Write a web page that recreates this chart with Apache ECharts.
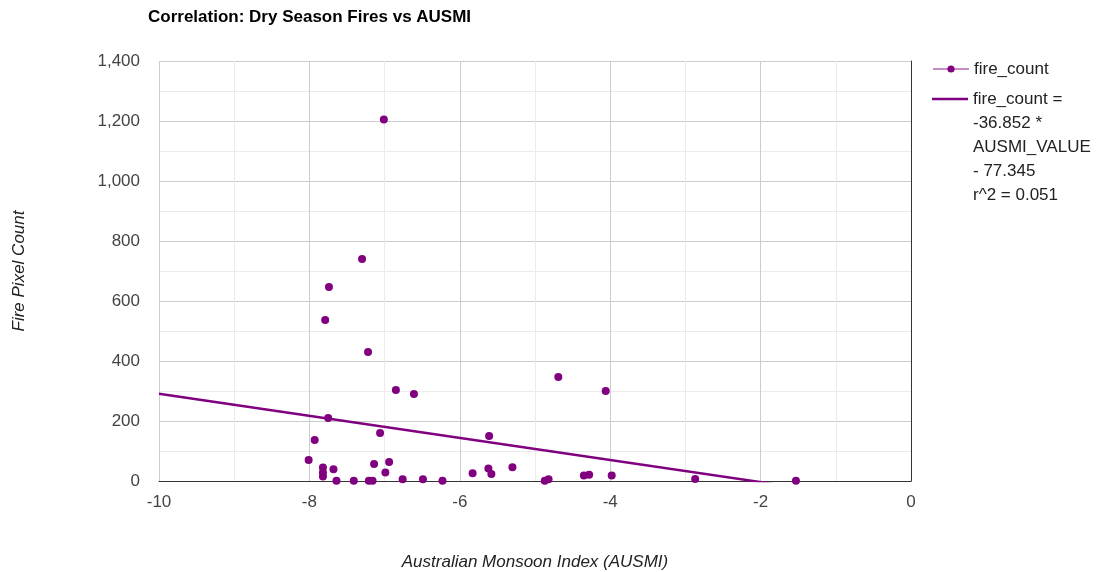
<!DOCTYPE html>
<html>
<head>
<meta charset="utf-8">
<title>Correlation: Dry Season Fires vs AUSMI</title>
<script src="https://cdn.jsdelivr.net/npm/echarts@6/dist/echarts.min.js"></script>
<style>
html,body{margin:0;padding:0;background:#fff;}
#main{width:1104px;height:572px;}
</style>
</head>
<body>
<div id="main"></div>
<script>
// data
var ausmi = [-7.01, -7.30, -7.74, -7.79, -7.22, -6.85, -6.61, -4.69, -4.06, -7.75,
	-7.93, -7.06, -5.61, -8.01, -7.82, -7.82, -7.82, -7.68, -7.64, -7.41,
	-7.21, -7.16, -7.14, -6.94, -6.99, -6.76, -6.49, -6.23, -5.83, -5.62,
	-5.58, -5.30, -4.87, -4.82, -4.35, -4.28, -3.98, -2.87, -1.53];
var fireCount = [1205, 740, 647, 537, 430, 303, 290, 347, 300, 210,
	137, 160, 150, 70, 45, 28, 15, 39, 1, 1,
	1, 1, 57, 63, 28, 6, 6, 1, 26, 42,
	23, 46, 1, 6, 18, 21, 18, 7, 1];
// trend line y = slope * x + intercept
var slope = -36.852;
var intercept = -77.345;
var r2 = 0.051;
var xRange = [-10, 0];

var font = 'Arial, "Liberation Sans", sans-serif';
var purple = '#800080';

var points = ausmi.map(function(x, i){ return [x, fireCount[i]]; });
var trend = xRange.map(function(x){ return [x, slope * x + intercept]; });
var trendName = 'fire_count =\n' + slope + ' *\nAUSMI_VALUE\n- ' + Math.abs(intercept) + '\nr^2 = ' + r2;

var myChart = echarts.init(document.getElementById('main'));

var option = {
	backgroundColor: '#fff',
	animation: false,
	title: {
		text: 'Correlation: Dry Season Fires vs AUSMI',
		left: 148,
		top: 9,
		padding: 0,
		textStyle: {fontFamily: font, fontSize: 17, fontWeight: 'bold', color: '#000'}
	},
	legend: [
		{
			data: ['fire_count'],
			left: 932, top: 57, padding: 0,
			itemWidth: 36, itemHeight: 9,
			textStyle: {fontFamily: font, fontSize: 17, color: '#222', lineHeight: 24},
			lineStyle: {color: 'rgba(128,0,128,0.45)', width: 2, opacity: 1}
		},
		{
			// empty lines above so the icon sits on the first text line
			data: [{name: trendName, icon: 'rect'}],
			left: 932, top: -9, padding: 0,
			itemWidth: 36, itemHeight: 2.5,
			formatter: function(name){ return '\n\n\n\n' + name; },
			textStyle: {fontFamily: font, fontSize: 17, color: '#222', lineHeight: 24}
		}
	],
	grid: {left: 159, right: 193, top: 61, bottom: 91, outerBoundsMode: 'none'},
	xAxis: {
		type: 'value',
		min: xRange[0], max: xRange[1], interval: 2,
		name: 'Australian Monsoon Index (AUSMI)',
		nameLocation: 'middle', nameGap: 73,
		nameTextStyle: {fontFamily: font, fontSize: 17, fontStyle: 'italic', color: '#222'},
		axisLine: {show: true, lineStyle: {color: '#333', width: 1}},
		axisTick: {show: false},
		axisLabel: {fontFamily: font, fontSize: 17, color: '#444', margin: 13},
		splitLine: {show: true, lineStyle: {color: '#ccc'}},
		minorTick: {show: false, splitNumber: 2},
		minorSplitLine: {show: true, lineStyle: {color: '#ebebeb'}}
	},
	yAxis: [
		{
			type: 'value',
			min: 0, max: 1400, interval: 200,
			name: 'Fire Pixel Count',
			nameLocation: 'middle', nameGap: 131, nameRotate: 90,
			nameTextStyle: {fontFamily: font, fontSize: 17, fontStyle: 'italic', color: '#222'},
			axisLine: {show: false},
			axisTick: {show: false},
			axisLabel: {
				fontFamily: font, fontSize: 17, color: '#444', margin: 19,
				formatter: function(v){ return v.toLocaleString('en-US'); }
			},
			splitLine: {show: true, lineStyle: {color: '#ccc'}},
			minorTick: {show: false, splitNumber: 2},
			minorSplitLine: {show: true, lineStyle: {color: '#ebebeb'}}
		},
		{
			// baseline at x = 0 (right edge)
			type: 'value', position: 'right',
			min: 0, max: 1400,
			axisLine: {show: true, onZero: false, lineStyle: {color: '#333', width: 1}},
			axisTick: {show: false},
			axisLabel: {show: false},
			splitLine: {show: false}
		}
	],
	series: [
		{
			name: trendName,
			type: 'line',
			data: trend,
			symbol: 'none',
			clip: true,
			lineStyle: {color: purple, width: 2.5},
			itemStyle: {color: purple},
			emphasis: {disabled: true},
			z: 2
		},
		{
			name: 'fire_count',
			type: 'line',
			data: points,
			symbol: 'circle',
			symbolSize: 8,
			showSymbol: true,
			showAllSymbol: true,
			lineStyle: {width: 0, opacity: 0},
			itemStyle: {color: purple},
			emphasis: {disabled: true},
			z: 3
		}
	]
};

myChart.setOption(option);
</script>
</body>
</html>
